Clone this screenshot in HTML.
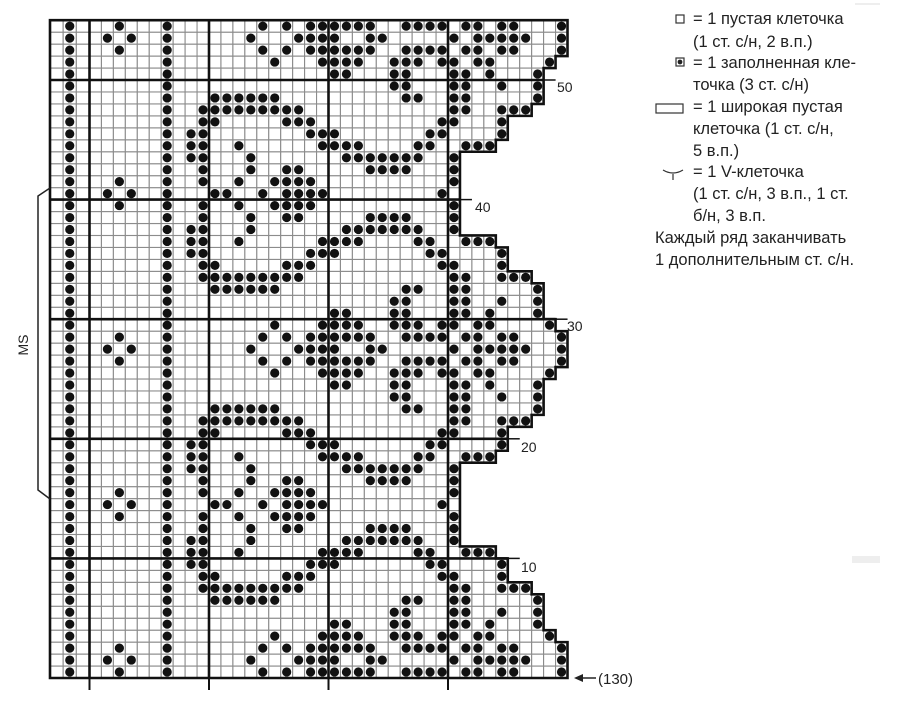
<!DOCTYPE html>
<html><head><meta charset="utf-8">
<style>
html,body{margin:0;padding:0;background:#fff;}
svg{display:block;}
text{font-family:"Liberation Sans",Arial,sans-serif;fill:#222;}
</style></head>
<body>
<svg id="s" width="910" height="722" viewBox="0 0 910 722" xmlns="http://www.w3.org/2000/svg">
<g id="grid"></g>
<g id="thick" stroke="#111" stroke-width="2.6" fill="none"></g>
<g id="dots" fill="#111"></g>
<text x="557" y="92" font-size="14">50</text>
<text x="475" y="212" font-size="14">40</text>
<text x="567" y="331" font-size="14">30</text>
<text x="521" y="452" font-size="14">20</text>
<text x="521" y="572" font-size="14">10</text>
<line x1="580" y1="678" x2="596" y2="678" stroke="#222" stroke-width="1.5"/>
<polygon points="574,678 583,674 583,682" fill="#222"/>
<text x="598" y="684" font-size="15">(130)</text>
<g stroke="#111" stroke-width="2">
<line x1="89.5" y1="678" x2="89.5" y2="690"/>
<line x1="209" y1="678" x2="209" y2="690"/>
<line x1="328.5" y1="678" x2="328.5" y2="690"/>
<line x1="448" y1="678" x2="448" y2="690"/>
</g>
<polyline points="50,188 38,196 38,490 50,499" fill="none" stroke="#222" stroke-width="1.5"/>
<text x="0" y="0" font-size="14" transform="translate(28,345) rotate(-90)" text-anchor="middle">MS</text>
<rect x="676" y="15" width="8" height="8" fill="#fff" stroke="#333" stroke-width="1.2"/>
<rect x="676" y="58" width="8" height="8" fill="#fff" stroke="#333" stroke-width="1.2"/>
<circle cx="680" cy="62" r="2.4" fill="#222"/>
<rect x="656" y="104" width="27" height="9" fill="#fff" stroke="#333" stroke-width="1.2"/>
<path d="M663,170 Q673,176 683,170 M673,174 L673,180" fill="none" stroke="#333" stroke-width="1.2"/>
<g font-size="16.5">
<text x="693" y="24">= 1 пустая клеточка</text>
<text x="693" y="47">(1 ст. с/н, 2 в.п.)</text>
<text x="693" y="68">= 1 заполненная кле-</text>
<text x="693" y="90">точка (3 ст. с/н)</text>
<text x="693" y="112">= 1 широкая пустая</text>
<text x="693" y="134">клеточка (1 ст. с/н,</text>
<text x="693" y="156">5 в.п.)</text>
<text x="693" y="177">= 1 V-клеточка</text>
<text x="693" y="199">(1 ст. с/н, 3 в.п., 1 ст.</text>
<text x="693" y="221">б/н, 3 в.п.</text>
<text x="655" y="243">Каждый ряд заканчивать</text>
<text x="655" y="265">1 дополнительным ст. с/н.</text>
</g>
<line x1="855" y1="4" x2="880" y2="4" stroke="#eee" stroke-width="2"/>
<rect x="852" y="556" width="28" height="7" fill="#eee"/>
</svg>
<script>
(function(){
function cx(i){return i<=3?50+i*13.17:89.5+(i-3)*11.95;}
var RH=11.96,BOT=678;
function yt(r){return BOT-r*RH;}
var L=[[1,4,6,9,16,20,21,22],[1,5,9,17,19,21,22],[1,9,18,22],[1,9],[1,9],[1,9,13,14,15,16,17,18],
[1,9,12,13,14,15,16,17,18,19,20],[1,9,12,13,19,20,21],[1,9,11,12,21,22],[1,9,11,12,15,22],
[1,9,11,12,16],[1,9,12,16,19,20],[1,5,9,12,15,18,19,20,21],[1,4,6,9,13,14,17,19,20,21,22]];
var R=[[23,26,27,33,35,36,37,38,39,42],[23,24,25,26,29,30,31,32,34,35,37,38,42],
[23,24,25,28,29,30,32,33,35,36,41],[23,24,28,29,33,34,36,40],[28,29,33,34,37,40],[29,30,33,34,40],
[33,34,37,38,39],[32,33,37],[23,31,32,37],[23,24,25,30,31,34,35,36],[24,25,26,27,28,29,30,33],
[26,27,28,29,33],[33],[32]];
var E=[42,42,41,40,40,40,39,37,37,36,33,33,33,33];
function dd(r){var t=((r-2)%26+26)%26;return t>13?26-t:t;}
var g=document.getElementById('grid'),dg=document.getElementById('dots'),th=document.getElementById('thick');
var gh='',dh='';
for(var r=1;r<=55;r++){
 var d=dd(r),e=E[d],y=yt(r);
 for(var c=0;c<=e;c++){
  gh+='<rect x="'+cx(c).toFixed(2)+'" y="'+y.toFixed(2)+'" width="'+(cx(c+1)-cx(c)).toFixed(2)+'" height="'+RH+'" fill="#fff" stroke="#8c8c8c" stroke-width="1.1"/>';
 }
 var lst=L[d].concat(R[d]);
 for(var k=0;k<lst.length;k++){
  var c2=lst[k];
  dh+='<circle cx="'+((cx(c2)+cx(c2+1))/2).toFixed(2)+'" cy="'+(y+RH/2).toFixed(2)+'" r="4.6"/>';
 }
}
g.innerHTML=gh;dg.innerHTML=dh;
function xr(r){return cx(E[dd(r)]+1);}
var p='M50,'+yt(55).toFixed(2)+' L'+xr(55).toFixed(2)+','+yt(55).toFixed(2);
for(var r2=55;r2>=1;r2--){
 p+=' L'+xr(r2).toFixed(2)+','+yt(r2-1).toFixed(2);
 if(r2>1)p+=' L'+xr(r2-1).toFixed(2)+','+yt(r2-1).toFixed(2);
}
p+=' L50,'+BOT+' Z';
var th_h='<path d="'+p+'"/>';
[3,13,23,33].forEach(function(c){th_h+='<line x1="'+cx(c)+'" y1="'+yt(55)+'" x2="'+cx(c)+'" y2="'+BOT+'"/>';});
[10,20,30,40,50].forEach(function(k){
 var y=yt(k),xm=Math.max(xr(k),xr(k+1));
 th_h+='<line x1="50" y1="'+y+'" x2="'+xm+'" y2="'+y+'"/>';
 th_h+='<line x1="'+xm+'" y1="'+y+'" x2="'+(xm+12)+'" y2="'+y+'" stroke-width="1.5"/>';
});
th.innerHTML=th_h;
})();
</script>
</body></html>
